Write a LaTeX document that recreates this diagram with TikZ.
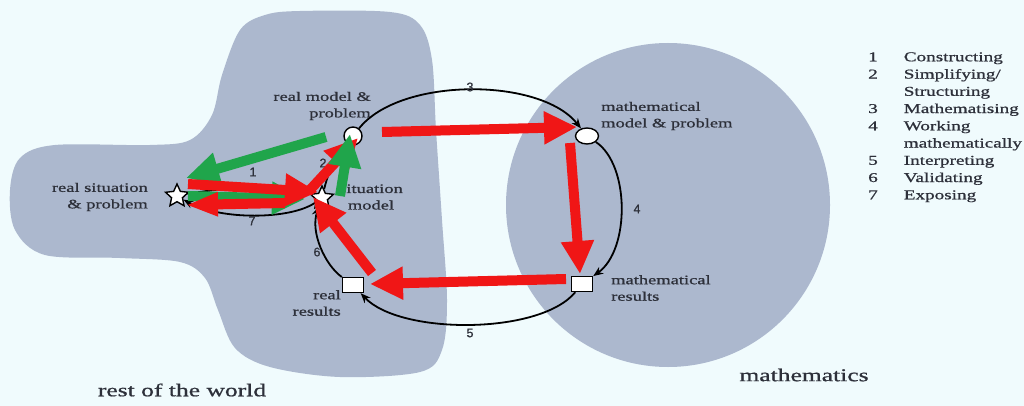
\documentclass[tikz,border=0pt]{standalone}
\usepackage{fontspec}
\setmainfont{Liberation Serif}[FakeStretch=1.42,FakeBold=0.9]
\newfontfamily\numfont{Liberation Sans}[FakeBold=0.8]
\usetikzlibrary{arrows.meta,shapes.geometric}
\definecolor{bg}{RGB}{240,251,253}
\definecolor{blob}{RGB}{172,184,206}
\definecolor{txt}{RGB}{45,48,58}
\definecolor{arred}{RGB}{240,22,22}
\definecolor{argreen}{RGB}{32,165,75}
\begin{document}
\begin{tikzpicture}[x=1pt,y=-1pt,
  lab/.style={font=\fontsize{13}{16.5}\selectfont, text=txt, inner sep=0pt},
  big/.style={font=\fontsize{18}{20}\selectfont, text=txt, inner sep=0pt},
  num/.style={font=\numfont\fontsize{12.5}{12.5}\selectfont, text=txt, inner sep=0pt},
  cyc/.style={draw=black, line width=1.8pt, -{Stealth[length=10pt,width=8pt]}},
  fat/.style={line width=10pt, -{Triangle[length=33pt,width=31pt]}},
  redarr/.style={fat, draw=arred, fill=arred},
  greenarr/.style={fat, draw=argreen, fill=argreen},
  nodemark/.style={draw=black, fill=white, line width=1.4pt, inner sep=0pt},
  starmark/.style={nodemark, star, star points=5, star point ratio=2.1, minimum size=24pt}
]
\useasboundingbox (0,0) rectangle (1024,406);
\fill[bg] (0,0) rectangle (1024,406);
% rest of the world
\fill[blob] plot[smooth cycle, tension=0.55] coordinates {
 (300,11) (390,12) (420,25) (432,60) (436,130) (442,220) (447,300) (442,350)
 (420,372) (340,377) (270,367) (235,348) (218,310) (205,278) (180,262) (120,258)
 (45,255) (15,230) (10,190) (20,158) (55,145) (150,145) (190,140) (212,115)
 (222,75) (240,30) (265,15)};
% mathematics
\fill[blob] (668,205) circle[radius=162];

% labels
\node[lab, align=right, anchor=east] (rmlab) at (371,106) {real model \&\\problem};
\node[lab, align=right, anchor=east] (rslab) at (148,197) {real situation\\\& problem};
\node[lab, align=center] (smlab) at (371,197) {situation\\model};
\node[lab, align=right, anchor=east] (rrlab) at (341,303) {real\\results};
\node[lab, align=left, anchor=west] (mmlab) at (601,116) {mathematical\\model \& problem};
\node[lab, align=left, anchor=west] (mrlab) at (611,288) {mathematical\\results};
\node[big] (world) at (182,390) {rest of the world};
\node[big] (maths) at (804,375) {mathematics};

% legend
\node[font=\fontsize{13.5}{17.25}\selectfont, text=txt, inner sep=0pt, anchor=north west] (legend) at (868,49) {%
\begin{tabular}{@{}c@{\hspace{26pt}}l@{}}
1 & Constructing\\
2 & Simplifying/\\
  & Structuring\\
3 & Mathematising\\
4 & Working\\
  & mathematically\\
5 & Interpreting\\
6 & Validating\\
7 & Exposing
\end{tabular}};

% markers
\node[nodemark, circle, minimum size=18pt] (rm) at (353,136) {};
\node[nodemark, ellipse, minimum width=23pt, minimum height=16pt] (mm) at (587,136) {};
\node[nodemark, rectangle, minimum width=21pt, minimum height=15pt] (mr) at (582,284) {};
\node[nodemark, rectangle, minimum width=21pt, minimum height=15pt] (rr) at (353,285) {};
\node[starmark] (rs) at (177,196) {};
\node[starmark] (sm) at (322,198) {};

% modelling cycle
\draw[cyc] (rm) .. controls (400,77) and (540,77) .. (mm);
\draw[cyc] (mm) .. controls (630,165) and (630,250) .. (mr);
\draw[cyc] (mr) .. controls (540,335) and (400,335) .. (rr);
\draw[cyc] (rr) .. controls (325,265) and (310,232) .. (sm);
\draw[cyc] (sm) .. controls (330,165) and (340,150) .. (rm);
\draw[cyc] (rs) .. controls (230,186) and (280,186) .. (sm);
\draw[cyc] (sm) .. controls (290,220) and (220,220) .. (rs);

% step numbers
\node[num] (n3) at (470,87) {3};
\node[num] (n1) at (253,172) {1};
\node[num] (n2) at (323,163) {2};
\node[num] (n7) at (252,221) {7};
\node[num] (n6) at (317,252) {6};
\node[num] (n5) at (470,333) {5};
\node[num] (n4) at (637,209) {4};

% coloured arrow end points
\coordinate (g1s) at (188,196); \coordinate (g1e) at (305,199);
\coordinate (g3s) at (326,137); \coordinate (g3e) at (186,178);
\coordinate (g2s) at (340,196); \coordinate (g2e) at (350,134);
\coordinate (r1s) at (188,184); \coordinate (r1e) at (318,192);
\coordinate (r7s) at (285,203); \coordinate (r7e) at (186,205);
\coordinate (r2s) at (308,192); \coordinate (r2e) at (358,138);
\coordinate (r6s) at (372,273); \coordinate (r6e) at (313,197);
\coordinate (r3s) at (382,132); \coordinate (r3e) at (577,127);
\coordinate (r4s) at (570,143); \coordinate (r4e) at (580,274);
\coordinate (r5s) at (566,279); \coordinate (r5e) at (370,284);

\draw[greenarr] (g1s) -- (g1e);
\draw[greenarr] (g3s) -- (g3e);
\draw[redarr] (r1s) -- (r1e);
\draw[redarr, -{Triangle[length=32pt,width=22pt]}] (r7s) -- (r7e);
\draw[redarr] (r2s) -- (r2e);
\draw[greenarr] (g2s) -- (g2e);
\draw[redarr] (r6s) -- (r6e);
\draw[redarr] (r3s) -- (r3e);
\draw[redarr] (r4s) -- (r4e);
\draw[redarr] (r5s) -- (r5e);
\end{tikzpicture}
\end{document}
